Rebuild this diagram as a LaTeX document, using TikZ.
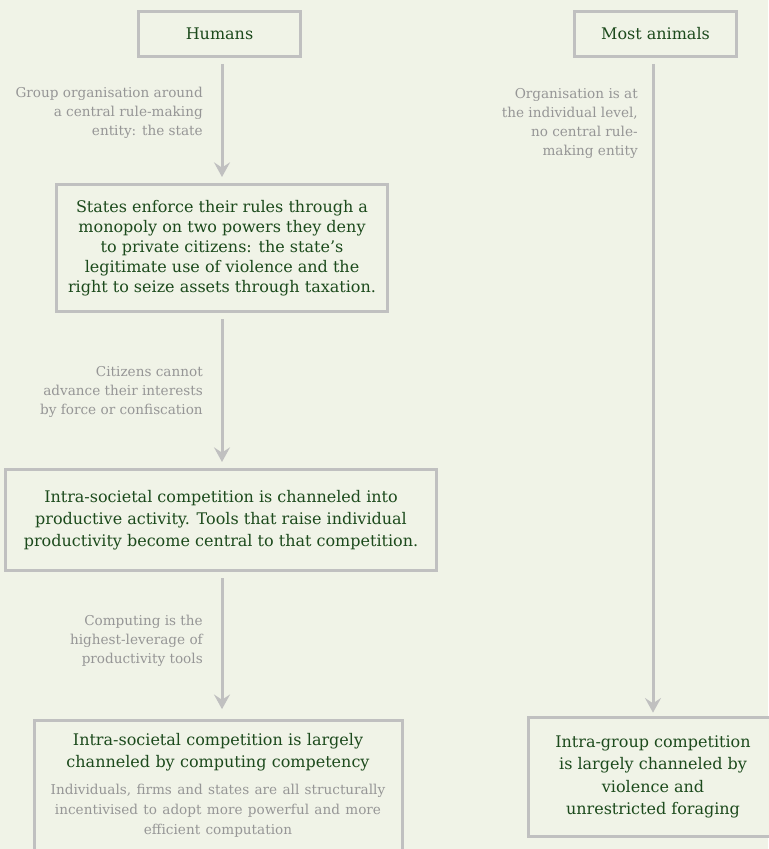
\documentclass[tikz,border=0pt]{standalone}
\usepackage{fontspec}
\setmainfont{DejaVu Serif}
\definecolor{pagebg}{RGB}{240,243,231}
\definecolor{darkgreen}{RGB}{28,74,28}
\definecolor{linegray}{RGB}{192,192,192}
\definecolor{notegray}{RGB}{150,150,150}
\usetikzlibrary{arrows.meta}

\begin{document}
\begin{tikzpicture}[x=0.75pt, y=-0.75pt,
  box/.style={draw=linegray, line width=2.25pt, fill=pagebg,
    align=center, text=darkgreen, inner sep=0pt,
    font=\fontsize{12}{16.5}\selectfont},
  note/.style={align=right, text=notegray, inner sep=0pt, anchor=east,
    font=\fontsize{10.2}{14.25}\selectfont},
  arw/.style={-{Stealth[length=11pt, width=12pt, inset=4pt]},
    line width=2.25pt, linegray, shorten <=4.5pt, shorten >=4.5pt},
]
\path[use as bounding box, fill=pagebg] (0,0) rectangle (768,849);

% top row
\node[box, minimum width=121.5pt, minimum height=33.75pt] (humans) at (219.5,34) {Humans};
\node[box, minimum width=121.5pt, minimum height=33.75pt] (animals) at (655.5,34) {Most animals};

% human chain
\node[box, minimum width=248.25pt, minimum height=95.25pt,
  font=\fontsize{12}{15}\selectfont] (states) at (222,248)
  {States enforce their rules through a\\monopoly on two powers they deny\\to private citizens: the state’s\\legitimate use of violence and the\\right to seize assets through taxation.};
\node[box, minimum width=323.25pt, minimum height=75.75pt] (channel) at (221,520)
  {Intra-societal competition is channeled into\\productive activity. Tools that raise individual\\productivity become central to that competition.};
\node[box, text width=276pt, inner ysep=10pt, anchor=north] (computing) at (218,718.5)
  {Intra-societal competition is largely\\channeled by computing competency\par
   \vspace{5pt}{\color{notegray}\fontsize{10.2}{15}\selectfont Individuals, firms and states are all structurally\\incentivised to adopt more powerful and more\\efficient computation\par}\vspace{12pt}};

% animal chain
\node[box, minimum width=186.75pt, minimum height=89.25pt,
  font=\fontsize{12}{16.9}\selectfont] (group) at (653,777)
  {Intra-group competition\\is largely channeled by\\violence and\\unrestricted foraging};

\draw[arw] (states.north |- humans.south) -- (states.north);
\draw[arw] (states.south) -- (channel.north -| states.south);
\draw[arw, shorten >=7pt] (channel.south -| states.south) -- (computing.north -| states.south);
\draw[arw, shorten >=2.5pt] (group.north |- animals.south) -- (group.north);

% side notes
\node[note] (n1) at (203,113) {Group organisation around\\a central rule-making\\entity: the state};
\node[note] (n2) at (203,392) {Citizens cannot\\advance their interests\\by force or confiscation};
\node[note] (n3) at (203,641) {Computing is the\\highest-leverage of\\productivity tools};
\node[note] (n4) at (638,123.5) {Organisation is at\\the individual level,\\no central rule-\\making entity};
\end{tikzpicture}
\end{document}
